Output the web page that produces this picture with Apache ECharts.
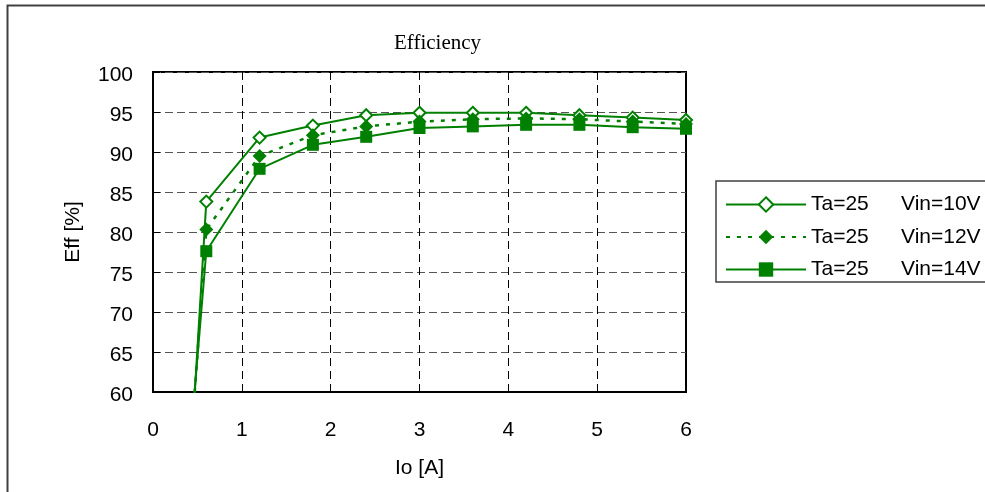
<!DOCTYPE html>
<html>
<head>
<meta charset="utf-8">
<title>Efficiency</title>
<script src="https://cdn.jsdelivr.net/npm/echarts@6/dist/echarts.min.js"></script>
<style>
  html, body { margin: 0; padding: 0; background: #fff; }
  #chart { width: 985px; height: 492px; }
</style>
</head>
<body>
<div id="chart"></div>
<script>
// Output current Io [A]
const ioValues = [0.4, 0.6, 1.2, 1.8, 2.4, 3.0, 3.6, 4.2, 4.8, 5.4, 6.0];
// Efficiency [%] at Ta=25 for each input voltage
const effVin10 = [47, 83.8, 91.8, 93.3, 94.6, 94.9, 94.9, 94.9, 94.6, 94.3, 94.0];
const effVin12 = [49, 80.3, 89.5, 92.1, 93.2, 93.8, 94.1, 94.2, 94.1, 93.8, 93.5];
const effVin14 = [51, 77.6, 87.9, 90.9, 91.9, 93.0, 93.2, 93.4, 93.4, 93.1, 92.9];

const seriesNames = ['Ta=25     Vin=10V', 'Ta=25     Vin=12V', 'Ta=25     Vin=14V'];
const legendParts = [['Ta=25', 'Vin=10V'], ['Ta=25', 'Vin=12V'], ['Ta=25', 'Vin=14V']];

const xTicks = { min: 0, max: 6, interval: 1 };
const yTicks = { min: 60, max: 100, interval: 5 };

const GREEN = '#008000';
const FONT = 'Liberation Sans, Arial, sans-serif';
const FS = 21;

function pairs(ys) {
  return ioValues.map((x, i) => [x, ys[i]]);
}

const chart = echarts.init(document.getElementById('chart'), null, { renderer: 'canvas' });

chart.setOption({
  animation: false,
  backgroundColor: '#fff',
  title: {
    text: 'Efficiency',
    left: 389,
    top: 28,
    textStyle: { fontFamily: 'Liberation Serif, Times New Roman, serif', fontSize: 21, fontWeight: 'normal', color: '#000' }
  },
  graphic: [{
    type: 'rect',
    left: 5, top: 3,
    shape: { width: 1000, height: 500 },
    style: { fill: 'none', stroke: '#404040', lineWidth: 2 },
    z: 0
  }],
  grid: {
    left: 153, top: 72, right: 299, bottom: 100,
    show: true, borderColor: '#000', borderWidth: 2, backgroundColor: '#fff'
  },
  legend: {
    orient: 'vertical',
    left: 716, top: 181,
    padding: [12, 20, 1, 9],
    itemWidth: 80, itemHeight: 18, itemGap: 9.5,
    borderColor: '#404040', borderWidth: 1.5,
    backgroundColor: '#fff',
    data: seriesNames,
    formatter: function (name) {
      const p = legendParts[seriesNames.indexOf(name)];
      return '{a|' + p[0] + '}{b|' + p[1] + '}';
    },
    textStyle: {
      fontFamily: FONT, fontSize: FS, color: '#000', lineHeight: 23,
      rich: {
        a: { width: 90, fontFamily: FONT, fontSize: FS, color: '#000' },
        b: { fontFamily: FONT, fontSize: FS, color: '#000' }
      }
    }
  },
  xAxis: {
    type: 'value',
    min: xTicks.min, max: xTicks.max, interval: xTicks.interval,
    name: 'Io [A]',
    nameLocation: 'middle',
    nameGap: 66,
    nameTextStyle: { fontFamily: FONT, fontSize: FS, color: '#000' },
    axisLine: { show: true, lineStyle: { color: '#000', width: 2 } },
    axisTick: { show: true, inside: true, length: 7, lineStyle: { color: '#000', width: 1 } },
    axisLabel: { margin: 28, fontFamily: FONT, fontSize: FS, color: '#000' },
    splitLine: { show: true, lineStyle: { color: '#000', width: 1, type: [8, 5] } }
  },
  yAxis: {
    type: 'value',
    min: yTicks.min, max: yTicks.max, interval: yTicks.interval,
    name: 'Eff [%]',
    nameLocation: 'middle',
    nameGap: 69,
    nameTextStyle: { fontFamily: FONT, fontSize: FS, color: '#000' },
    axisLine: { show: true, lineStyle: { color: '#000', width: 2 } },
    axisTick: { show: true, inside: true, length: 7, lineStyle: { color: '#000', width: 1 } },
    axisLabel: { margin: 20, verticalAlign: 'top', lineHeight: 6, fontFamily: FONT, fontSize: FS, color: '#000' },
    splitLine: { show: true, lineStyle: { color: '#555', width: 1, type: [8, 4] } }
  },
  series: [
    {
      name: seriesNames[0],
      type: 'line',
      data: pairs(effVin10),
      clip: true,
      symbol: 'emptyDiamond',
      symbolSize: 12,
      lineStyle: { color: GREEN, width: 2 },
      itemStyle: { color: GREEN, borderWidth: 2 },
      z: 3
    },
    {
      name: seriesNames[1],
      type: 'line',
      data: pairs(effVin12),
      clip: true,
      symbol: 'diamond',
      symbolSize: 14,
      lineStyle: { color: GREEN, width: 2.5, type: [4, 7] },
      itemStyle: { color: GREEN },
      z: 4
    },
    {
      name: seriesNames[2],
      type: 'line',
      data: pairs(effVin14),
      clip: true,
      symbol: 'rect',
      symbolSize: 12,
      lineStyle: { color: GREEN, width: 2 },
      itemStyle: { color: GREEN },
      z: 5
    }
  ]
});
</script>
</body>
</html>
